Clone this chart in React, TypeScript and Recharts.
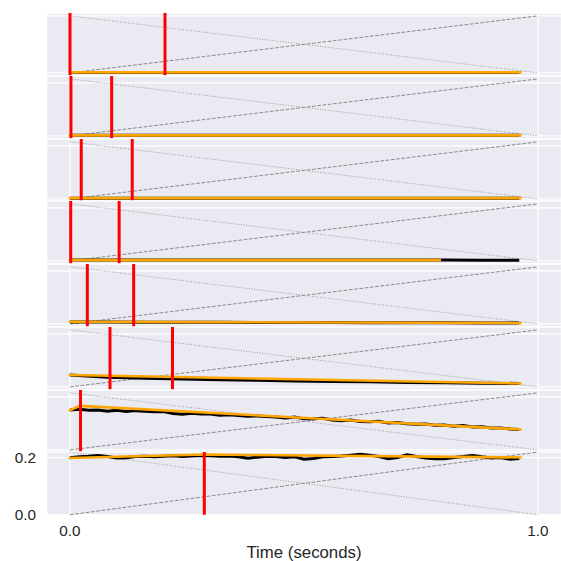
import React from 'react';
import { ComposedChart, Line, XAxis, YAxis, CartesianGrid, ReferenceLine } from 'recharts';

// ---- data ----
const timeTicks = [0, 1];
const valueTicks = [0, 0.2];
const panelYMax = [0.2, 0.215, 0.215, 0.215, 0.215, 0.215, 0.215, 0.22];
const redMarkers = [
  [0.0, 0.203],
  [0.002, 0.089],
  [0.024, 0.133],
  [0.0015, 0.105],
  [0.037, 0.136],
  [0.0855, 0.219],
  [0.0225],
  [0.287],
];

const coarseTime = [0, 0.08, 0.16, 0.24, 0.32, 0.4, 0.48, 0.56, 0.64, 0.72, 0.8, 0.88, 0.96];
const trace1 = [0.001, 0.001, 0.001, 0.001, 0.001, 0.001, 0.001, 0.001, 0.001, 0.001, 0.001, 0.001, 0.001];
const trace2 = [0.002, 0.002, 0.002, 0.002, 0.002, 0.002, 0.002, 0.002, 0.002, 0.002, 0.002, 0.002, 0.002];
const trace3 = [0.002, 0.002, 0.002, 0.002, 0.002, 0.002, 0.002, 0.002, 0.002, 0.002, 0.002, 0.002, 0.002];
const trace4 = [0.003, 0.003, 0.003, 0.003, 0.003, 0.003, 0.003, 0.003, 0.003, 0.003, 0.003, 0.002, 0.002];
const trace5 = [0.007, 0.007, 0.006, 0.006, 0.006, 0.005, 0.005, 0.005, 0.004, 0.004, 0.004, 0.003, 0.003];
const trace6 = [0.045, 0.036, 0.033, 0.030, 0.027, 0.025, 0.022, 0.020, 0.019, 0.017, 0.016, 0.014, 0.013];

const fineTime = [
  0, 0.02, 0.04, 0.06, 0.08, 0.1, 0.12, 0.14, 0.16, 0.18, 0.2, 0.22, 0.24, 0.26, 0.28, 0.3, 0.32,
  0.34, 0.36, 0.38, 0.4, 0.42, 0.44, 0.46, 0.48, 0.5, 0.52, 0.54, 0.56, 0.58, 0.6, 0.62, 0.64, 0.66,
  0.68, 0.7, 0.72, 0.74, 0.76, 0.78, 0.8, 0.82, 0.84, 0.86, 0.88, 0.9, 0.92, 0.94, 0.96,
];
const trace7 = [
  0.150, 0.153, 0.149, 0.150, 0.146, 0.149, 0.145, 0.148, 0.146, 0.144, 0.145, 0.137, 0.134, 0.138,
  0.135, 0.135, 0.131, 0.132, 0.130, 0.127, 0.128, 0.126, 0.124, 0.120, 0.124, 0.117, 0.117, 0.119,
  0.113, 0.110, 0.113, 0.107, 0.106, 0.108, 0.101, 0.103, 0.099, 0.097, 0.098, 0.093, 0.094, 0.089,
  0.092, 0.086, 0.087, 0.083, 0.083, 0.079, 0.077,
];
const trace8 = [
  0.200, 0.203, 0.205, 0.208, 0.204, 0.199, 0.200, 0.204, 0.205, 0.203, 0.205, 0.207, 0.204, 0.206,
  0.208, 0.207, 0.205, 0.206, 0.203, 0.198, 0.202, 0.205, 0.204, 0.201, 0.203, 0.195, 0.197, 0.203,
  0.204, 0.206, 0.209, 0.212, 0.209, 0.204, 0.196, 0.201, 0.210, 0.204, 0.199, 0.196, 0.196, 0.201,
  0.204, 0.208, 0.203, 0.199, 0.201, 0.195, 0.197,
];

const fitTimes = [
  [0, 0.962],
  [0, 0.962],
  [0, 0.962],
  [0, 0.79],
  [0, 0.962],
  [0, 0.962],
  [0, 0.021, 0.962],
  [0, 0.286, 0.962],
];
const fitValues = [
  [0.002, 0.002],
  [0.002, 0.002],
  [0.003, 0.003],
  [0.003, 0.003],
  [0.008, 0.003],
  [0.045, 0.013],
  [0.149, 0.166, 0.077],
  [0.199, 0.211, 0.201],
];

const traceTimes = [coarseTime, coarseTime, coarseTime, coarseTime, coarseTime, coarseTime, fineTime, fineTime];
const traceValues = [trace1, trace2, trace3, trace4, trace5, trace6, trace7, trace8];

// ---- layout ----
const CHART_W = 561.4;
const LEFT = 46.6;
const TOP = 13;
const PANEL_H = 62.75;
const AXIS_H = 46;
const BG = '#EAEAF2';
const FONT = "'Liberation Sans', Arial, sans-serif";
const TEXT = '#262626';

const zip = (xs: number[], ys: number[]) => xs.map((x, i) => ({ x, y: ys[i] }));

function Panel({ index }: { index: number }) {
  const last = index === panelYMax.length - 1;
  const ymax = panelYMax[index];
  const domain = last ? [0, ymax] : [-0.05 * ymax, 1.05 * ymax];
  const trace = zip(traceTimes[index], traceValues[index]);
  const fit = zip(fitTimes[index], fitValues[index]);
  const h = last ? PANEL_H + AXIS_H : PANEL_H;
  return (
    <div style={{ position: 'absolute', left: 0, top: TOP + PANEL_H * index }}>
      <ComposedChart
        width={CHART_W}
        height={h}
        margin={{ top: 0, right: 0, bottom: 0, left: last ? 0 : LEFT }}
      >
        <CartesianGrid fill={BG} fillOpacity={1} stroke="#ffffff" strokeWidth={1.3} />
        <XAxis
          type="number"
          dataKey="x"
          domain={[-0.05, 1.05]}
          ticks={timeTicks}
          interval={0}
          allowDataOverflow
          hide={!last}
          height={AXIS_H}
          axisLine={false}
          tickLine={false}
          tickMargin={4}
          tickFormatter={(v: number) => v.toFixed(1)}
          tick={{ fill: TEXT, fontSize: 15.3, fontFamily: FONT }}
          label={last ? { value: 'Time (seconds)', position: 'insideBottom', offset: 3, fill: TEXT, fontSize: 16.8, fontFamily: FONT } : undefined}
        />
        <YAxis
          type="number"
          domain={domain}
          ticks={valueTicks}
          interval={0}
          allowDataOverflow
          hide={!last}
          width={LEFT}
          axisLine={false}
          tickLine={false}
          tickMargin={4.5}
          tickFormatter={(v: number) => v.toFixed(1)}
          tick={{ fill: TEXT, fontSize: 15.3, fontFamily: FONT }}
        />
        <ReferenceLine
          segment={[{ x: 0, y: ymax }, { x: 1, y: 0 }]}
          stroke="#9a9a9a"
          strokeWidth={1}
          strokeDasharray="1 1.65"
        />
        <ReferenceLine
          segment={[{ x: 0, y: 0 }, { x: 1, y: ymax }]}
          stroke="#8a8a8a"
          strokeWidth={1}
          strokeDasharray="3.7 1.6"
        />
        <Line
          data={trace}
          dataKey="y"
          type="linear"
          stroke="#000000"
          strokeWidth={3}
          dot={false}
          activeDot={false}
          isAnimationActive={false}
        />
        <Line
          data={fit}
          dataKey="y"
          type="linear"
          stroke="#FFA500"
          strokeWidth={2.6}
          strokeLinecap="square"
          dot={false}
          activeDot={false}
          isAnimationActive={false}
        />
        {redMarkers[index].map((t, k) => (
          <ReferenceLine key={k} x={t} stroke="#FF0000" strokeWidth={3} />
        ))}
      </ComposedChart>
    </div>
  );
}

export default function App() {
  return (
    <div
      style={{
        position: 'absolute',
        left: 0,
        top: 0,
        width: 561,
        height: 561,
        overflow: 'hidden',
        background: '#ffffff',
      }}
    >
      <style>{'.recharts-surface { overflow: visible; }'}</style>
      {panelYMax.map((_, i) => (
        <Panel key={i} index={i} />
      ))}
    </div>
  );
}
